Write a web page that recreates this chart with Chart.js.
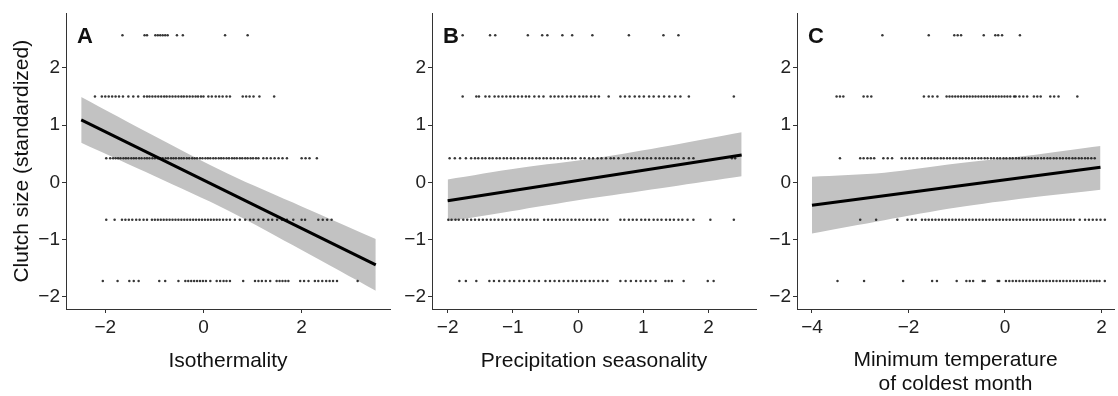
<!DOCTYPE html>
<html>
<head>
<meta charset="utf-8">
<script src="https://cdn.jsdelivr.net/npm/chart.js@4.4.1/dist/chart.umd.min.js"></script>
<style>
  body { margin: 0; background: #fff; }
  #wrap { position: relative; width: 1118px; height: 396px; overflow: hidden; }
  .panel { position: absolute; top: 0; }
</style>
</head>
<body>
<div id="wrap">
  <div class="panel" style="left:0px"><canvas id="chartA" width="400" height="396"></canvas></div>
  <div class="panel" style="left:400px"><canvas id="chartB" width="366" height="396"></canvas></div>
  <div class="panel" style="left:766px"><canvas id="chartC" width="352" height="396"></canvas></div>
</div>
<script>
// clutch size levels (standardized) - points sit on these rows
const levelsY = [2.57, 1.50, 0.42, -0.65, -1.72];
const yTicks = [-2, -1, 0, 1, 2];

// A: isothermality, x values per row (same order as levelsY)
const isoX = [
  [-1.65, -1.20, -1.15, -0.98, -0.93, -0.88, -0.83, -0.78, -0.73, -0.54, -0.42, 0.44, 0.90],
  [-2.21, -2.07, -2.00, -1.93, -1.86, -1.79, -1.72, -1.64, -1.53, -1.43, -1.33, -1.21, -1.15, -1.10, -1.04, -0.98, -0.92, -0.86, -0.80, -0.75, -0.69, -0.63, -0.57, -0.51, -0.45, -0.40, -0.34, -0.28, -0.22, -0.16, -0.11, -0.05, 0.00, 0.10, 0.17, 0.25, 0.32, 0.39, 0.47, 0.54, 0.80, 0.87, 0.94, 1.02, 1.14, 1.44],
  [-1.98, -1.90, -1.84, -1.79, -1.74, -1.69, -1.63, -1.58, -1.53, -1.47, -1.42, -1.37, -1.31, -1.26, -1.20, -1.15, -1.10, -1.04, -0.99, -0.93, -0.88, -0.83, -0.77, -0.72, -0.66, -0.61, -0.56, -0.50, -0.45, -0.40, -0.34, -0.29, -0.23, -0.18, -0.13, -0.07, -0.02, 0.04, 0.09, 0.14, 0.20, 0.25, 0.31, 0.36, 0.41, 0.47, 0.52, 0.58, 0.63, 0.68, 0.74, 0.79, 0.85, 0.90, 0.96, 1.01, 1.07, 1.12, 1.22, 1.29, 1.37, 1.45, 1.53, 1.61, 1.70, 2.00, 2.08, 2.16, 2.31],
  [-1.98, -1.81, -1.66, -1.59, -1.52, -1.45, -1.37, -1.30, -1.22, -1.15, -1.05, -0.99, -0.93, -0.87, -0.81, -0.75, -0.69, -0.63, -0.57, -0.51, -0.45, -0.39, -0.33, -0.27, -0.21, -0.15, -0.09, -0.03, 0.03, 0.09, 0.15, 0.21, 0.27, 0.33, 0.40, 0.47, 0.54, 0.64, 0.74, 0.85, 0.95, 1.02, 1.12, 1.22, 1.32, 1.40, 1.50, 1.60, 1.70, 1.83, 2.00, 2.07, 2.34, 2.43, 2.52, 2.61],
  [-2.05, -1.75, -1.51, -1.42, -1.32, -0.90, -0.78, -0.51, -0.37, -0.31, -0.25, -0.19, -0.13, -0.07, -0.01, 0.05, 0.14, 0.27, 0.34, 0.41, 0.47, 0.54, 0.81, 1.05, 1.12, 1.19, 1.27, 1.36, 1.49, 1.55, 1.61, 1.67, 1.73, 1.97, 2.05, 2.14, 2.27, 2.34, 2.42, 2.50, 2.57, 2.64, 2.72, 3.14]
];
const isoLineX = [-2.49, 3.51];
const isoLineY = [1.09, -1.44];
const isoBandX = [-2.49, -1.0, 0.5, 2.0, 3.51];
const isoBandUp = [1.49, 0.81, 0.15, -0.42, -0.99];
const isoBandLo = [0.69, 0.11, -0.49, -1.18, -1.89];

// B: precipitation seasonality
const precX = [
  [-1.77, -1.35, -1.27, -0.77, -0.55, -0.47, -0.24, -0.09, 0.22, 0.78, 1.31, 1.54],
  [-1.77, -1.56, -1.52, -1.42, -1.36, -1.28, -1.22, -1.16, -1.10, -1.04, -0.98, -0.92, -0.86, -0.80, -0.75, -0.67, -0.60, -0.53, -0.42, -0.36, -0.30, -0.24, -0.17, -0.11, -0.05, 0.02, 0.08, 0.13, 0.20, 0.26, 0.32, 0.47, 0.65, 0.72, 0.79, 0.87, 0.94, 1.01, 1.09, 1.16, 1.24, 1.32, 1.40, 1.49, 1.57, 1.70, 2.39],
  [-1.97, -1.89, -1.81, -1.72, -1.64, -1.58, -1.53, -1.47, -1.42, -1.36, -1.31, -1.25, -1.20, -1.14, -1.09, -1.03, -0.98, -0.92, -0.86, -0.81, -0.75, -0.70, -0.64, -0.59, -0.53, -0.48, -0.42, -0.37, -0.31, -0.26, -0.20, -0.15, -0.09, -0.04, 0.04, 0.10, 0.17, 0.23, 0.30, 0.36, 0.43, 0.50, 0.55, 0.62, 0.70, 0.76, 0.82, 0.88, 0.94, 1.00, 1.06, 1.12, 1.19, 1.25, 1.31, 1.37, 1.43, 1.49, 1.54, 1.62, 1.70, 1.77, 2.36, 2.41],
  [-1.99, -1.94, -1.88, -1.83, -1.76, -1.70, -1.64, -1.58, -1.52, -1.46, -1.40, -1.34, -1.28, -1.22, -1.16, -1.10, -1.04, -0.97, -0.91, -0.85, -0.79, -0.73, -0.67, -0.62, -0.52, -0.46, -0.40, -0.34, -0.28, -0.22, -0.16, -0.10, -0.04, 0.02, 0.08, 0.14, 0.20, 0.26, 0.33, 0.39, 0.45, 0.65, 0.71, 0.78, 0.84, 0.90, 0.97, 1.03, 1.09, 1.16, 1.22, 1.28, 1.35, 1.41, 1.47, 1.54, 1.60, 1.68, 1.77, 2.03, 2.39],
  [-1.82, -1.72, -1.56, -1.36, -1.29, -1.21, -1.13, -1.05, -0.98, -0.90, -0.83, -0.75, -0.67, -0.60, -0.50, -0.43, -0.36, -0.29, -0.22, -0.15, -0.08, -0.02, 0.05, 0.11, 0.18, 0.24, 0.31, 0.38, 0.45, 0.65, 0.73, 0.81, 0.89, 0.96, 1.04, 1.11, 1.19, 1.34, 1.39, 1.44, 1.62, 1.99, 2.08]
];
const precLineX = [-2.0, 2.51];
const precLineY = [-0.32, 0.48];
const precBandX = [-2.0, -0.9, 0.25, 1.4, 2.51];
const precBandUp = [0.05, 0.25, 0.42, 0.64, 0.875];
const precBandLo = [-0.68, -0.48, -0.27, -0.08, 0.106];

// C: minimum temperature of coldest month
const tminX = [
  [-2.54, -1.58, -1.05, -0.98, -0.91, -0.44, -0.20, -0.14, -0.06, 0.31],
  [-3.49, -3.42, -3.35, -2.93, -2.85, -2.77, -1.68, -1.58, -1.50, -1.40, -1.21, -1.15, -1.09, -1.03, -0.97, -0.91, -0.85, -0.79, -0.73, -0.67, -0.61, -0.55, -0.49, -0.43, -0.37, -0.31, -0.25, -0.19, -0.13, -0.07, -0.01, 0.05, 0.11, 0.19, 0.22, 0.30, 0.38, 0.46, 0.60, 0.67, 0.74, 0.94, 1.02, 1.11, 1.50],
  [-3.42, -3.00, -2.93, -2.85, -2.78, -2.71, -2.52, -2.43, -2.34, -2.14, -2.06, -1.98, -1.90, -1.82, -1.72, -1.66, -1.59, -1.53, -1.46, -1.40, -1.33, -1.27, -1.20, -1.14, -1.07, -1.01, -0.94, -0.88, -0.81, -0.75, -0.68, -0.62, -0.55, -0.49, -0.42, -0.36, -0.29, -0.23, -0.16, -0.10, -0.03, 0.03, 0.10, 0.16, 0.23, 0.29, 0.36, 0.42, 0.49, 0.55, 0.62, 0.68, 0.75, 0.81, 0.88, 0.94, 1.01, 1.07, 1.14, 1.20, 1.27, 1.33, 1.40, 1.46, 1.53, 1.59, 1.66, 1.72, 1.79, 1.86],
  [-3.00, -2.67, -2.23, -2.02, -1.93, -1.85, -1.72, -1.65, -1.58, -1.51, -1.44, -1.37, -1.30, -1.23, -1.16, -1.09, -1.02, -0.95, -0.88, -0.81, -0.74, -0.67, -0.60, -0.53, -0.46, -0.39, -0.32, -0.25, -0.18, -0.11, -0.04, 0.03, 0.10, 0.17, 0.24, 0.31, 0.38, 0.45, 0.52, 0.59, 0.66, 0.73, 0.80, 0.87, 0.94, 1.01, 1.08, 1.15, 1.22, 1.29, 1.36, 1.43, 1.55, 1.66, 1.74, 1.82, 1.90, 1.98, 2.07],
  [-3.47, -2.92, -2.11, -1.51, -1.41, -1.00, -0.80, -0.73, -0.66, -0.46, -0.42, -0.15, -0.12, 0.02, 0.09, 0.16, 0.23, 0.30, 0.37, 0.44, 0.51, 0.58, 0.65, 0.72, 0.79, 0.86, 0.93, 1.00, 1.07, 1.14, 1.21, 1.28, 1.35, 1.42, 1.49, 1.56, 1.63, 1.70, 1.77, 1.84, 1.90, 1.96, 2.07]
];
const tminLineX = [-4.0, 1.98];
const tminLineY = [-0.40, 0.265];
const tminBandX = [-4.0, -2.5, -1.0, 0.5, 1.98];
const tminBandUp = [0.10, 0.17, 0.33, 0.47, 0.636];
const tminBandLo = [-0.89, -0.66, -0.44, -0.27, -0.13];

const FONT = '"Liberation Sans", Arial, sans-serif';
const AXIS_COL = '#333333';

function fmt(v) {
    return v < 0 ? '\u2212' + Math.abs(v) : String(v);
}

function pairs(xs, ys) {
    return xs.map((x, i) => ({ x: x, y: ys[i] }));
}

// panel letter (A/B/C) in the top-left of the plot area
const letterPlugin = {
    id: 'panelLetter',
    afterDraw(chart, args, opts) {
        const ctx = chart.ctx;
        ctx.save();
        ctx.font = 'bold 22px ' + FONT;
        ctx.fillStyle = '#111';
        ctx.textBaseline = 'alphabetic';
        ctx.fillText(opts.text, chart.chartArea.left + 11, chart.chartArea.top + 30);
        ctx.restore();
    }
};

function makePanel(id, p) {
    const points = [];
    levelsY.forEach((y, r) => {
        p.xs[r].forEach(x => points.push({ x: x, y: y }));
    });

    return new Chart(document.getElementById(id), {
        type: 'scatter',
        data: {
            datasets: [
                {
                    // regression line
                    data: pairs(p.lineX, p.lineY),
                    showLine: true,
                    borderColor: '#000',
                    borderWidth: 3,
                    pointRadius: 0,
                    order: 0
                },
                {
                    data: points,
                    pointRadius: 1.25,
                    pointBorderWidth: 0,
                    backgroundColor: 'rgba(20,20,20,0.85)',
                    order: 1
                },
                {
                    // upper edge of the confidence band, filled down to the lower edge
                    data: pairs(p.bandX, p.bandUp),
                    showLine: true,
                    borderWidth: 0,
                    pointRadius: 0,
                    tension: 0.3,
                    backgroundColor: '#c2c2c2',
                    fill: '+1',
                    order: 2
                },
                {
                    data: pairs(p.bandX, p.bandLo),
                    showLine: true,
                    borderWidth: 0,
                    pointRadius: 0,
                    tension: 0.3,
                    order: 3
                }
            ]
        },
        options: {
            responsive: false,
            animation: false,
            events: [],
            layout: { padding: { top: 7, right: p.padRight, bottom: 0, left: 0 } },
            plugins: {
                legend: { display: false },
                tooltip: { enabled: false },
                panelLetter: { text: p.letter }
            },
            scales: {
                x: {
                    type: 'linear',
                    min: p.xMin,
                    max: p.xMax,
                    afterBuildTicks: s => { s.ticks = p.xTicks.map(v => ({ value: v })); },
                    afterFit: s => { s.height = 87; },
                    grid: { drawOnChartArea: false, drawTicks: true, tickLength: 4, color: AXIS_COL },
                    border: { display: true, color: AXIS_COL, width: 1 },
                    ticks: {
                        padding: 3,
                        color: '#222',
                        font: { family: FONT, size: 19 },
                        callback: v => fmt(v)
                    },
                    title: {
                        display: true,
                        text: p.xTitle,
                        color: '#111',
                        font: { family: FONT, size: 21, lineHeight: 1.15 },
                        padding: { top: 0, bottom: p.xTitlePad }
                    }
                },
                y: {
                    type: 'linear',
                    min: -2.21,
                    max: 2.95,
                    afterBuildTicks: s => { s.ticks = yTicks.map(v => ({ value: v })); },
                    afterFit: s => { s.width = p.yWidth; },
                    grid: { drawOnChartArea: false, drawTicks: true, tickLength: 4, color: AXIS_COL },
                    border: { display: true, color: AXIS_COL, width: 1 },
                    ticks: {
                        padding: 2,
                        color: '#222',
                        font: { family: FONT, size: 19 },
                        callback: v => fmt(v)
                    },
                    title: {
                        display: p.yTitle !== '',
                        text: p.yTitle,
                        color: '#111',
                        font: { family: FONT, size: 21 },
                        padding: { top: 10, bottom: 0 }
                    }
                }
            }
        },
        plugins: [letterPlugin]
    });
}

makePanel('chartA', {
    letter: 'A', xs: isoX, lineX: isoLineX, lineY: isoLineY,
    bandX: isoBandX, bandUp: isoBandUp, bandLo: isoBandLo,
    xMin: -2.80, xMax: 3.80, xTicks: [-2, 0, 2],
    xTitle: 'Isothermality', xTitlePad: 23,
    yTitle: 'Clutch size (standardized)', yWidth: 66, padRight: 10
});

makePanel('chartB', {
    letter: 'B', xs: precX, lineX: precLineX, lineY: precLineY,
    bandX: precBandX, bandUp: precBandUp, bandLo: precBandLo,
    xMin: -2.24, xMax: 2.73, xTicks: [-2, -1, 0, 1, 2],
    xTitle: 'Precipitation seasonality', xTitlePad: 23,
    yTitle: '', yWidth: 32, padRight: 10
});

makePanel('chartC', {
    letter: 'C', xs: tminX, lineX: tminLineX, lineY: tminLineY,
    bandX: tminBandX, bandUp: tminBandUp, bandLo: tminBandLo,
    xMin: -4.31, xMax: 2.26, xTicks: [-4, -2, 0, 2],
    xTitle: ['Minimum temperature', 'of coldest month'], xTitlePad: 0,
    yTitle: '', yWidth: 31, padRight: 0
});
</script>
</body>
</html>
